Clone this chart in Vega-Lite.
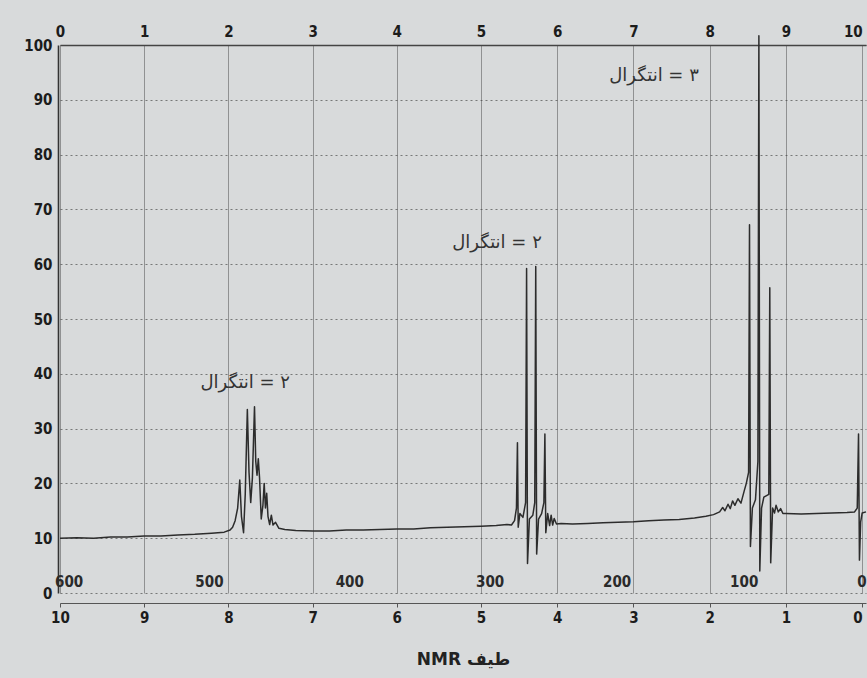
{
  "$schema": "https://vega.github.io/schema/vega-lite/v6.json",
  "width": 808,
  "height": 548,
  "autosize": "none",
  "padding": {"left": 58, "top": 45, "right": 1, "bottom": 85},
  "background": "#d8dadb",
  "config": {"view": {"stroke": null}, "font": "DejaVu Sans"},
  "datasets": {
    "spectrum": [
      {"i": 1, "ppm": 10.0, "v": 10.0}, {"i": 2, "ppm": 9.8, "v": 10.1}, {"i": 3, "ppm": 9.6, "v": 10.0},
      {"i": 4, "ppm": 9.4, "v": 10.2}, {"i": 5, "ppm": 9.2, "v": 10.2}, {"i": 6, "ppm": 9.0, "v": 10.4},
      {"i": 7, "ppm": 8.8, "v": 10.4}, {"i": 8, "ppm": 8.6, "v": 10.6}, {"i": 9, "ppm": 8.4, "v": 10.7},
      {"i": 10, "ppm": 8.2, "v": 10.9}, {"i": 11, "ppm": 8.05, "v": 11.1}, {"i": 12, "ppm": 7.98, "v": 11.5},
      {"i": 13, "ppm": 7.95, "v": 12.0}, {"i": 14, "ppm": 7.92, "v": 13.2}, {"i": 15, "ppm": 7.89, "v": 15.5},
      {"i": 16, "ppm": 7.865, "v": 20.6}, {"i": 17, "ppm": 7.845, "v": 14.0}, {"i": 18, "ppm": 7.82, "v": 11.0},
      {"i": 19, "ppm": 7.8, "v": 18.0}, {"i": 20, "ppm": 7.775, "v": 33.5}, {"i": 21, "ppm": 7.755, "v": 22.0},
      {"i": 22, "ppm": 7.735, "v": 16.5}, {"i": 23, "ppm": 7.715, "v": 21.0}, {"i": 24, "ppm": 7.69, "v": 34.0},
      {"i": 25, "ppm": 7.675, "v": 24.0}, {"i": 26, "ppm": 7.66, "v": 21.5}, {"i": 27, "ppm": 7.645, "v": 24.5},
      {"i": 28, "ppm": 7.63, "v": 21.0}, {"i": 29, "ppm": 7.61, "v": 13.5}, {"i": 30, "ppm": 7.59, "v": 16.0},
      {"i": 31, "ppm": 7.575, "v": 20.0}, {"i": 32, "ppm": 7.56, "v": 15.5}, {"i": 33, "ppm": 7.545, "v": 18.2},
      {"i": 34, "ppm": 7.53, "v": 14.0}, {"i": 35, "ppm": 7.51, "v": 12.5}, {"i": 36, "ppm": 7.49, "v": 14.2},
      {"i": 37, "ppm": 7.47, "v": 12.4}, {"i": 38, "ppm": 7.44, "v": 12.9}, {"i": 39, "ppm": 7.4, "v": 11.8},
      {"i": 40, "ppm": 7.33, "v": 11.6}, {"i": 41, "ppm": 7.2, "v": 11.4}, {"i": 42, "ppm": 7.0, "v": 11.3},
      {"i": 43, "ppm": 6.8, "v": 11.3}, {"i": 44, "ppm": 6.6, "v": 11.5}, {"i": 45, "ppm": 6.4, "v": 11.5},
      {"i": 46, "ppm": 6.2, "v": 11.6}, {"i": 47, "ppm": 6.0, "v": 11.7}, {"i": 48, "ppm": 5.8, "v": 11.7},
      {"i": 49, "ppm": 5.6, "v": 11.9}, {"i": 50, "ppm": 5.4, "v": 12.0}, {"i": 51, "ppm": 5.2, "v": 12.1},
      {"i": 52, "ppm": 5.0, "v": 12.2}, {"i": 53, "ppm": 4.8, "v": 12.3}, {"i": 54, "ppm": 4.66, "v": 12.5},
      {"i": 55, "ppm": 4.6, "v": 12.4}, {"i": 56, "ppm": 4.56, "v": 13.2}, {"i": 57, "ppm": 4.535, "v": 15.5},
      {"i": 58, "ppm": 4.522, "v": 27.4}, {"i": 59, "ppm": 4.512, "v": 12.0}, {"i": 60, "ppm": 4.49, "v": 14.5},
      {"i": 61, "ppm": 4.45, "v": 13.8}, {"i": 62, "ppm": 4.415, "v": 16.5}, {"i": 63, "ppm": 4.402, "v": 59.2},
      {"i": 64, "ppm": 4.39, "v": 5.4}, {"i": 65, "ppm": 4.365, "v": 13.5}, {"i": 66, "ppm": 4.32, "v": 14.2},
      {"i": 67, "ppm": 4.295, "v": 16.5}, {"i": 68, "ppm": 4.282, "v": 59.6}, {"i": 69, "ppm": 4.27, "v": 7.1},
      {"i": 70, "ppm": 4.245, "v": 13.5}, {"i": 71, "ppm": 4.205, "v": 14.5}, {"i": 72, "ppm": 4.175, "v": 16.5},
      {"i": 73, "ppm": 4.162, "v": 29.0}, {"i": 74, "ppm": 4.15, "v": 11.0}, {"i": 75, "ppm": 4.125, "v": 14.5},
      {"i": 76, "ppm": 4.1, "v": 12.3}, {"i": 77, "ppm": 4.08, "v": 14.2}, {"i": 78, "ppm": 4.06, "v": 12.4},
      {"i": 79, "ppm": 4.04, "v": 13.6}, {"i": 80, "ppm": 4.01, "v": 12.6}, {"i": 81, "ppm": 3.95, "v": 12.7},
      {"i": 82, "ppm": 3.8, "v": 12.6}, {"i": 83, "ppm": 3.6, "v": 12.7}, {"i": 84, "ppm": 3.4, "v": 12.8},
      {"i": 85, "ppm": 3.2, "v": 12.9}, {"i": 86, "ppm": 3.0, "v": 13.0}, {"i": 87, "ppm": 2.8, "v": 13.2},
      {"i": 88, "ppm": 2.6, "v": 13.3}, {"i": 89, "ppm": 2.4, "v": 13.4}, {"i": 90, "ppm": 2.2, "v": 13.7},
      {"i": 91, "ppm": 2.05, "v": 14.0}, {"i": 92, "ppm": 1.95, "v": 14.3}, {"i": 93, "ppm": 1.87, "v": 14.8},
      {"i": 94, "ppm": 1.83, "v": 15.6}, {"i": 95, "ppm": 1.8, "v": 15.0}, {"i": 96, "ppm": 1.76, "v": 16.2},
      {"i": 97, "ppm": 1.73, "v": 15.4}, {"i": 98, "ppm": 1.7, "v": 16.8}, {"i": 99, "ppm": 1.67, "v": 16.0},
      {"i": 100, "ppm": 1.63, "v": 17.2}, {"i": 101, "ppm": 1.59, "v": 16.4}, {"i": 102, "ppm": 1.55, "v": 18.5},
      {"i": 103, "ppm": 1.52, "v": 20.0}, {"i": 104, "ppm": 1.49, "v": 22.0}, {"i": 105, "ppm": 1.478, "v": 67.2},
      {"i": 106, "ppm": 1.466, "v": 8.5}, {"i": 107, "ppm": 1.44, "v": 15.5}, {"i": 108, "ppm": 1.4, "v": 17.0},
      {"i": 109, "ppm": 1.368, "v": 24.0}, {"i": 110, "ppm": 1.355, "v": 101.7}, {"i": 111, "ppm": 1.343, "v": 4.0},
      {"i": 112, "ppm": 1.32, "v": 15.5}, {"i": 113, "ppm": 1.29, "v": 17.5}, {"i": 114, "ppm": 1.225, "v": 18.0},
      {"i": 115, "ppm": 1.212, "v": 55.7}, {"i": 116, "ppm": 1.2, "v": 5.5}, {"i": 117, "ppm": 1.175, "v": 15.5},
      {"i": 118, "ppm": 1.15, "v": 14.6}, {"i": 119, "ppm": 1.13, "v": 16.0}, {"i": 120, "ppm": 1.1, "v": 14.8},
      {"i": 121, "ppm": 1.07, "v": 15.4}, {"i": 122, "ppm": 1.04, "v": 14.5}, {"i": 123, "ppm": 1.0, "v": 14.5},
      {"i": 124, "ppm": 0.8, "v": 14.4}, {"i": 125, "ppm": 0.6, "v": 14.5}, {"i": 126, "ppm": 0.4, "v": 14.6},
      {"i": 127, "ppm": 0.2, "v": 14.7}, {"i": 128, "ppm": 0.1, "v": 14.8}, {"i": 129, "ppm": 0.065, "v": 15.5},
      {"i": 130, "ppm": 0.048, "v": 29.0}, {"i": 131, "ppm": 0.036, "v": 6.0}, {"i": 132, "ppm": 0.02, "v": 13.0},
      {"i": 133, "ppm": 0.0, "v": 14.6}, {"i": 134, "ppm": -0.05, "v": 14.8}
    ],
    "hz": [
      {"ppm": 10.0, "hz": "600"}, {"ppm": 8.333, "hz": "500"}, {"ppm": 6.667, "hz": "400"},
      {"ppm": 5.0, "hz": "300"}, {"ppm": 3.333, "hz": "200"}, {"ppm": 1.667, "hz": "100"},
      {"ppm": 0.0, "hz": "0"}
    ],
    "integrals": [
      {"ppm": 7.8, "v": 38.3, "label": "انتگرال‎ = ۲"},
      {"ppm": 4.79, "v": 63.9, "label": "انتگرال‎ = ۲"},
      {"ppm": 2.73, "v": 94.3, "label": "انتگرال‎ = ۳"}
    ]
  },
  "layer": [
    {
      "data": {"name": "spectrum"},
      "mark": {"type": "line", "stroke": "#2c2c2c", "strokeWidth": 1.5, "strokeJoin": "round", "clip": false},
      "encoding": {
        "x": {
          "field": "ppm", "type": "quantitative",
          "scale": {"domain": [10, 5, -0.05], "range": [2, 423, 808], "nice": false, "zero": false},
          "axis": {
            "orient": "bottom", "values": [10, 9, 8, 7, 6, 5, 4, 3, 2, 1, 0], "format": "d",
            "offset": 10, "domainColor": "#555", "domainWidth": 1.2,
            "tickColor": "#555", "tickSize": 4,
            "labelAlign": {"condition": {"test": "datum.value === 0", "value": "right"}, "value": "center"},
            "labelFont": "Liberation Sans Narrow, DejaVu Sans Condensed, DejaVu Sans",
            "labelFontSize": 15, "labelFontWeight": "bold", "labelColor": "#1c1c1c", "labelPadding": 3,
            "grid": true, "gridColor": "#555", "gridOpacity": 0.55, "gridWidth": 1,
            "title": "NMR طیف", "titleFont": "DejaVu Sans", "titleFontSize": 17, "titleFontWeight": "bold",
            "titleColor": "#222", "titlePadding": 26
          }
        },
        "y": {
          "field": "v", "type": "quantitative",
          "scale": {"domain": [0, 100], "nice": false},
          "axis": {
            "values": [0, 5, 10, 15, 20, 25, 30, 35, 40, 45, 50, 55, 60, 65, 70, 75, 80, 85, 90, 95, 100],
            "labelExpr": "datum.value % 10 === 0 ? datum.label : ''",
            "domainColor": "#333", "domainWidth": 1.6, "ticks": false,
            "labelFont": "Liberation Sans Narrow, DejaVu Sans Condensed, DejaVu Sans",
            "labelFontSize": 15, "labelFontWeight": "bold", "labelColor": "#1c1c1c", "labelPadding": 6,
            "grid": true, "gridColor": "#444", "gridDash": [2, 3], "gridWidth": 1,
            "gridOpacity": {"condition": {"test": "datum.value % 10 === 0", "value": 0.65}, "value": 0.35},
            "title": null
          }
        },
        "order": {"field": "i", "type": "quantitative"}
      }
    },
    {
      "data": {"name": "hz"},
      "mark": {
        "type": "text", "align": "left", "baseline": "bottom", "dx": -5, "dy": -3,
        "font": "Liberation Sans Narrow, DejaVu Sans Condensed, DejaVu Sans",
        "fontSize": 15, "fontWeight": "bold", "color": "#2a2a2a"
      },
      "encoding": {
        "x": {"field": "ppm", "type": "quantitative", "axis": null},
        "y": {"datum": 0, "type": "quantitative"},
        "text": {"field": "hz"}
      }
    },
    {
      "data": {"name": "integrals"},
      "mark": {
        "type": "text", "align": "center", "baseline": "middle",
        "font": "DejaVu Sans", "fontSize": 18, "color": "#333"
      },
      "encoding": {
        "x": {
          "field": "ppm", "type": "quantitative",
          "axis": {
            "orient": "top", "values": [10, 9, 8, 7, 6, 5, 4, 3, 2, 1, 0],
            "labelExpr": "format(10 - datum.value, 'd')",
            "labelAlign": {"condition": {"test": "datum.value === 0", "value": "right"}, "value": "center"},
            "domainColor": "#444", "domainWidth": 1.4, "ticks": false,
            "labelFont": "Liberation Sans Narrow, DejaVu Sans Condensed, DejaVu Sans",
            "labelFontSize": 15, "labelFontWeight": "bold", "labelColor": "#1c1c1c", "labelPadding": 6,
            "grid": false, "title": null
          }
        },
        "y": {"field": "v", "type": "quantitative"},
        "text": {"field": "label"}
      }
    }
  ],
  "resolve": {"axis": {"x": "independent"}}
}
